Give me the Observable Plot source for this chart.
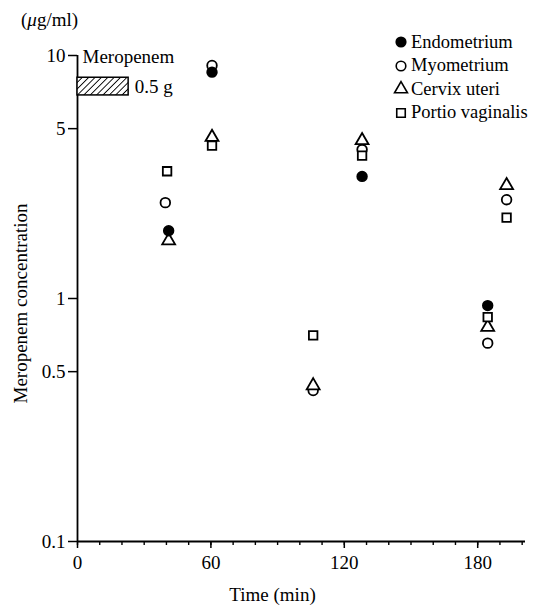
<!DOCTYPE html>
<html><head><meta charset="utf-8">
<script src="https://cdn.jsdelivr.net/npm/d3@7"></script>
<script src="https://cdn.jsdelivr.net/npm/@observablehq/plot@0.6"></script>
<style>
body{margin:0;background:#fff;}
#wrap{position:relative;width:538px;height:611px;font-family:"Liberation Serif",serif;color:#000;}
#unit{position:absolute;left:21px;top:9px;font-size:19px;line-height:22px;}
#legend{position:absolute;left:0;top:0;font-size:18.5px;}
.row{position:absolute;display:flex;align-items:center;height:22px;white-space:nowrap;}
.row svg{margin-right:3px;overflow:visible}
#chart{position:absolute;left:0;top:0;}
</style></head><body>
<div id="wrap"><div id="chart"></div><div id="unit">(<i>μ</i>g/ml)</div><div id="legend"></div></div>
<script>
// series and their symbols
const series = ["Endometrium", "Myometrium", "Cervix uteri", "Portio vaginalis"];
const symbols = ["circle", "circle", "triangle", "square"];
const fills = ["black", "white", "white", "white"];

// values (time in min, concentration in µg/ml)
const endometriumTime  = [41, 60.5, 128, 184.5];
const endometriumValue = [1.90, 8.54, 3.18, 0.935];
const myometriumTime   = [39.5, 60.5, 106, 128, 184.5, 193];
const myometriumValue  = [2.48, 9.1, 0.418, 4.1, 0.655, 2.55];
const cervixTime       = [41, 60.5, 106, 128, 184.5, 193];
const cervixValue      = [1.73, 4.61, 0.438, 4.47, 0.762, 2.92];
const portioTime       = [40.3, 60.5, 106, 128, 184.5, 193];
const portioValue      = [3.34, 4.26, 0.705, 3.87, 0.838, 2.15];

// axes
const xTicks = [0, 60, 120, 180];
const xMinorTicks = d3.range(0, 201, 10);
const yTicks = [0.1, 0.5, 1, 5, 10];

// infusion annotation
const infusion = [{start: 0, end: 23, drug: "Meropenem", dose: "0.5 g"}];

const times = [endometriumTime, myometriumTime, cervixTime, portioTime];
const values = [endometriumValue, myometriumValue, cervixValue, portioValue];
const points = [];
// hollow series first, filled series on top
[1, 2, 3, 0].forEach(i => {
  times[i].forEach((t, j) => points.push({series: series[i], time: t, value: values[i][j], fill: fills[i]}));
});

const R = 4.8;
const chart = Plot.plot({
  width: 538, height: 611,
  marginLeft: 77, marginRight: 13, marginTop: 55, marginBottom: 70,
  style: {fontFamily: "Liberation Serif", fontSize: "19px", background: "transparent", color: "black"},
  x: {domain: [0, 201.5]},
  y: {type: "log", domain: [0.1, 10]},
  symbol: {domain: series, range: symbols},
  color: {type: "identity"},
  marks: [
    Plot.axisX({ticks: xMinorTicks, tickSize: 4, tickFormat: () => "", label: null, strokeWidth: 1.4}),
    Plot.axisX({ticks: xTicks, tickSize: 7, tickPadding: 7, label: null, strokeWidth: 1.5}),
    Plot.axisY({ticks: yTicks, tickSize: 9, tickPadding: 3, tickFormat: d => String(d), label: null, strokeWidth: 1.5}),
    Plot.ruleX([0], {y1: 0.1, y2: 10, strokeWidth: 1.8}),
    Plot.ruleY([0.1], {x1: 0, x2: 201.5, strokeWidth: 1.8}),
    Plot.rect(infusion, {x1: "start", x2: "end", y1: 6.85, y2: 8.1, fill: "url(#hatch)", stroke: "black", strokeWidth: 1.5}),
    Plot.text(infusion, {x: "start", y: 10, text: "drug", textAnchor: "start", dx: 5, dy: 1}),
    Plot.text(infusion, {x: "end", y: 7.45, text: "dose", textAnchor: "start", dx: 6}),
    Plot.text(["Meropenem concentration"], {frameAnchor: "left", textAnchor: "middle", rotate: -90, dx: -57, dy: 5, text: d => d}),
    Plot.text(["Time (min)"], {frameAnchor: "bottom", dx: -29, dy: 59, text: d => d}),
    Plot.dot(points, {x: "time", y: "value", symbol: "series", fill: "fill", stroke: "black", strokeWidth: 1.8, r: R})
  ]
});
d3.select(chart).insert("defs", ":first-child").html(
  '<pattern id="hatch" patternUnits="userSpaceOnUse" width="4.5" height="4.5" patternTransform="rotate(45)">' +
  '<rect width="4.5" height="4.5" fill="white"/><line x1="0" y1="0" x2="0" y2="4.5" stroke="black" stroke-width="1.8"/></pattern>'
);
document.getElementById("chart").appendChild(chart);

// legend
const legend = d3.select("#legend");
const legendX = 394, legendY0 = 31, legendStep = 23.5;
series.forEach((s, i) => {
  const row = legend.append("div").attr("class", "row")
    .style("left", legendX + "px").style("top", (legendY0 + i * legendStep) + "px");
  const svg = row.append("svg").attr("width", 14).attr("height", 14);
  const sym = {circle: d3.symbolCircle, triangle: d3.symbolTriangle, square: d3.symbolSquare}[symbols[i]];
  svg.append("path").attr("transform", "translate(7,7)")
    .attr("d", d3.symbol(sym, R * R * Math.PI)())
    .attr("fill", fills[i]).attr("stroke", "black").attr("stroke-width", 1.6);
  row.append("span").text(s);
});
</script>
</body></html>
